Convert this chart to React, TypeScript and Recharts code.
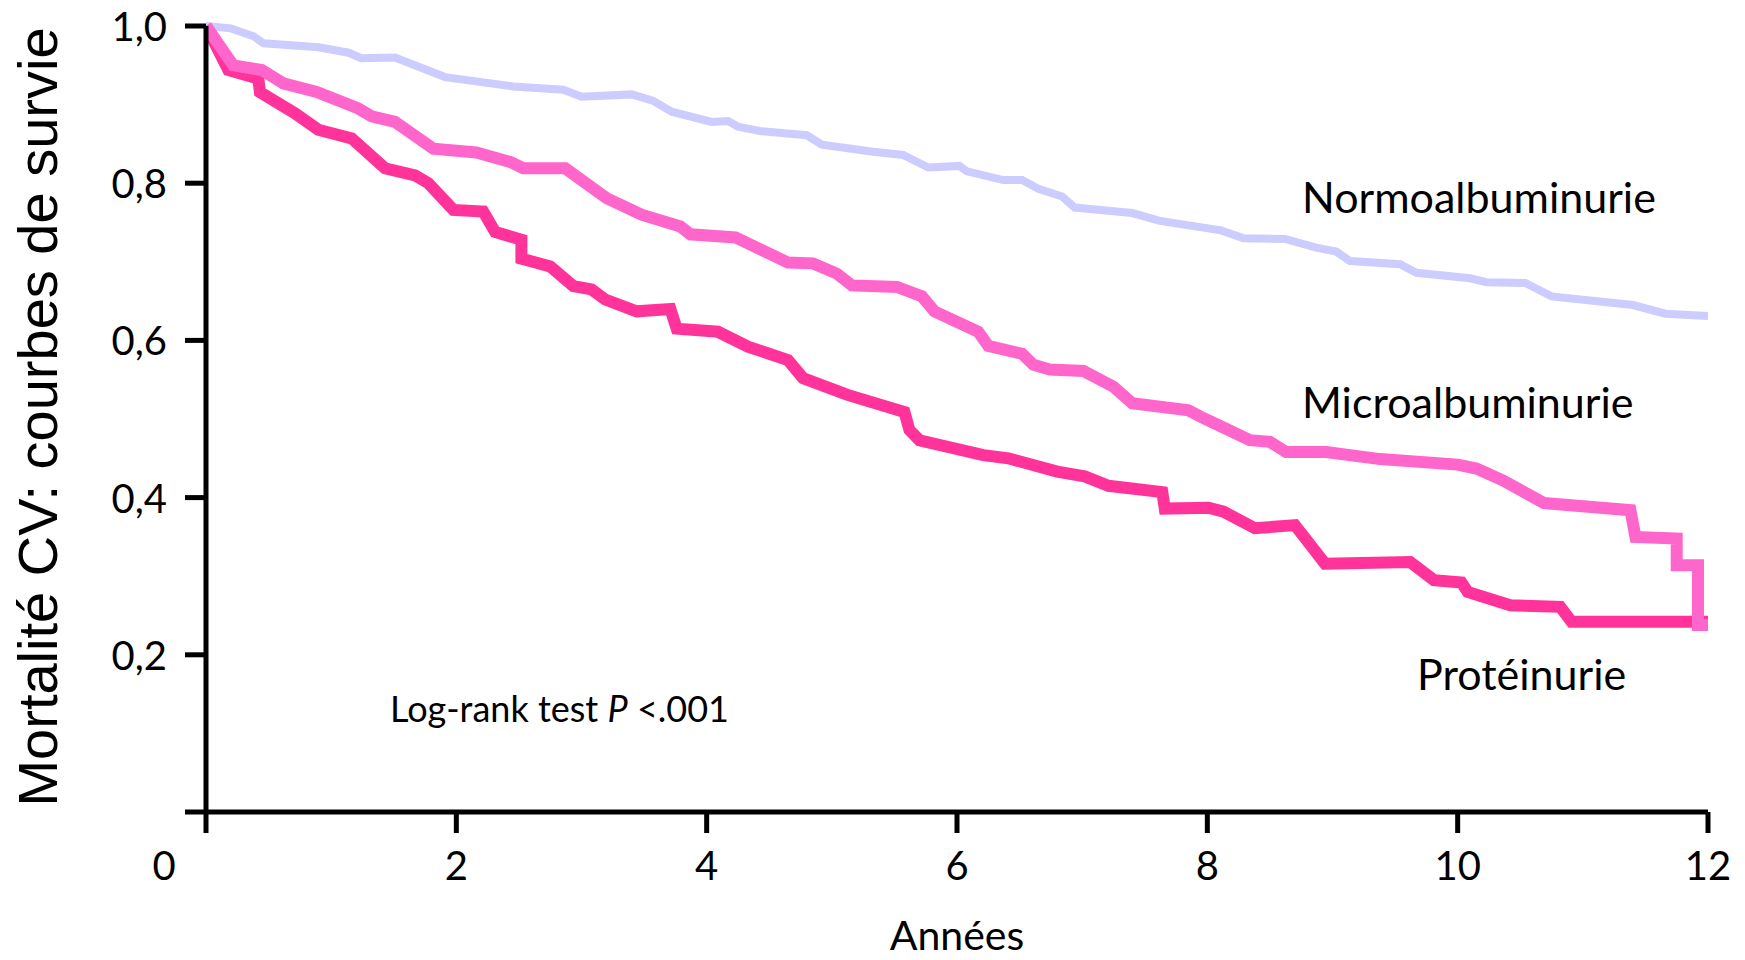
import React from 'react';
import { LineChart, Line, XAxis, YAxis, Customized } from 'recharts';

// Kaplan-Meier curves: [years, survival]
const normoalbuminurie: [number, number][] = [
  [0, 1.0], [0.2, 0.997], [0.38, 0.987], [0.46, 0.978], [0.9, 0.973], [1.14, 0.966],
  [1.24, 0.959], [1.51, 0.96], [1.91, 0.935], [2.455, 0.923], [2.855, 0.919], [3.0, 0.91],
  [3.4, 0.913], [3.57, 0.905], [3.72, 0.891], [4.04, 0.878], [4.17, 0.879], [4.25, 0.872],
  [4.44, 0.866], [4.8, 0.861], [4.92, 0.849], [5.33, 0.84], [5.57, 0.836], [5.77, 0.82],
  [6.02, 0.822], [6.08, 0.815], [6.37, 0.804], [6.52, 0.804], [6.65, 0.793], [6.84, 0.783],
  [6.94, 0.769], [7.4, 0.762], [7.62, 0.752], [8.11, 0.74], [8.29, 0.73], [8.62, 0.729],
  [8.87, 0.718], [9.03, 0.713], [9.14, 0.701], [9.54, 0.697], [9.67, 0.686], [10.1, 0.679],
  [10.23, 0.674], [10.54, 0.673], [10.75, 0.656], [11.4, 0.645], [11.66, 0.634], [12.0, 0.631],
];

const microalbuminurie: [number, number][] = [
  [0, 1.0], [0.218, 0.95], [0.445, 0.944], [0.618, 0.927], [0.884, 0.916], [1.217, 0.895],
  [1.324, 0.885], [1.51, 0.878], [1.816, 0.844], [2.16, 0.839], [2.43, 0.827], [2.535, 0.819],
  [2.87, 0.819], [3.2, 0.781], [3.48, 0.76], [3.79, 0.745], [3.87, 0.735], [4.23, 0.731],
  [4.65, 0.699], [4.85, 0.698], [5.04, 0.685], [5.16, 0.67], [5.52, 0.668], [5.72, 0.656],
  [5.82, 0.637], [6.17, 0.611], [6.25, 0.593], [6.52, 0.583], [6.61, 0.569], [6.74, 0.563],
  [7.01, 0.561], [7.25, 0.541], [7.4, 0.52], [7.85, 0.511], [7.97, 0.501], [8.09, 0.492],
  [8.34, 0.473], [8.5, 0.471], [8.63, 0.458], [8.95, 0.458], [9.38, 0.449], [10.0, 0.442],
  [10.15, 0.437], [10.36, 0.422], [10.69, 0.393], [11.38, 0.384], [11.42, 0.35], [11.75, 0.348],
  [11.75, 0.314], [11.92, 0.314], [11.92, 0.238], [12.0, 0.238],
];

const proteinurie: [number, number][] = [
  [0, 1.0], [0.178, 0.944], [0.418, 0.933], [0.431, 0.916], [0.711, 0.889], [0.897, 0.868],
  [1.164, 0.857], [1.43, 0.819], [1.67, 0.81], [1.776, 0.8], [1.976, 0.766], [2.215, 0.764],
  [2.31, 0.738], [2.52, 0.728], [2.52, 0.704], [2.75, 0.694], [2.935, 0.669], [3.08, 0.665],
  [3.19, 0.652], [3.44, 0.637], [3.71, 0.64], [3.76, 0.615], [4.09, 0.611], [4.33, 0.592],
  [4.65, 0.575], [4.77, 0.552], [5.12, 0.531], [5.58, 0.509], [5.62, 0.486], [5.7, 0.473],
  [6.21, 0.454], [6.41, 0.45], [6.8, 0.433], [7.02, 0.427], [7.21, 0.415], [7.64, 0.407],
  [7.66, 0.386], [8.01, 0.387], [8.13, 0.382], [8.38, 0.361], [8.7, 0.365], [8.94, 0.316],
  [9.62, 0.318], [9.81, 0.295], [10.03, 0.292], [10.08, 0.28], [10.42, 0.263], [10.82, 0.261],
  [10.91, 0.242], [12.0, 0.242],
];

const yearTicks = [0, 2, 4, 6, 8, 10, 12];
const survivalTicks = [0, 0.2, 0.4, 0.6, 0.8, 1.0];

const toRows = (pts: [number, number][]) => pts.map(([t, s]) => ({ t, s }));

const FONT = 'Lato, "Open Sans", sans-serif';

const XTick = (props: any) => {
  const { x, y, payload } = props;
  const shift = payload.value === 0 ? -42 : 0;
  return (
    <text x={x + shift} y={y + 30} textAnchor="middle" dominantBaseline="central"
      fontFamily={FONT} fontSize={40} fill="#000">
      {payload.value}
    </text>
  );
};

const YTick = (props: any) => {
  const { x, y, payload } = props;
  if (payload.value === 0) return null;
  return (
    <text x={x - 16} y={y} textAnchor="end" dominantBaseline="central"
      fontFamily={FONT} fontSize={40} fill="#000">
      {payload.value.toFixed(1).replace('.', ',')}
    </text>
  );
};

const Annotations = () => (
  <g fontFamily={FONT} fill="#000">
    <text x={1302} y={213} fontSize={43}>Normoalbuminurie</text>
    <text x={1302} y={418} fontSize={43}>Microalbuminurie</text>
    <text x={1417} y={690} fontSize={43}>Protéinurie</text>
    <text x={390} y={722} fontSize={36}>
      Log-rank test <tspan fontStyle="italic">P</tspan> {'<.001'}
    </text>
    <text x={957} y={950} fontSize={41} textAnchor="middle">Années</text>
    <text x={57} y={417} fontSize={56} textAnchor="middle" transform="rotate(-90, 57, 417)"
      fontFamily='"Liberation Sans", Arial, sans-serif'>
      Mortalité CV: courbes de survie
    </text>
  </g>
);

export default function App() {
  const axisStroke = { stroke: '#000', strokeWidth: 5 };
  return (
    <div style={{ position: 'absolute', left: 0, top: 0, background: '#fff' }}>
      <LineChart width={1745} height={960} margin={{ top: 26, right: 37, left: 0, bottom: 0 }}>
        <XAxis type="number" dataKey="t" domain={[0, 12]} ticks={yearTicks} interval={0}
          height={148} tickSize={21} axisLine={axisStroke} tickLine={axisStroke}
          tick={<XTick />} allowDataOverflow />
        <YAxis type="number" dataKey="s" domain={[0, 1]} ticks={survivalTicks} interval={0}
          width={206} tickSize={21} axisLine={axisStroke} tickLine={axisStroke}
          tick={<YTick />} />
        <Line data={toRows(normoalbuminurie)} dataKey="s" type="linear" stroke="#CCCCFF"
          strokeWidth={8} dot={false} activeDot={false} isAnimationActive={false} />
        <Line data={toRows(proteinurie)} dataKey="s" type="linear" stroke="#FF3399"
          strokeWidth={12} dot={false} activeDot={false} isAnimationActive={false} />
        <Line data={toRows(microalbuminurie)} dataKey="s" type="linear" stroke="#FF66CC"
          strokeWidth={12} dot={false} activeDot={false} isAnimationActive={false} />
        <Customized component={Annotations} />
      </LineChart>
    </div>
  );
}
